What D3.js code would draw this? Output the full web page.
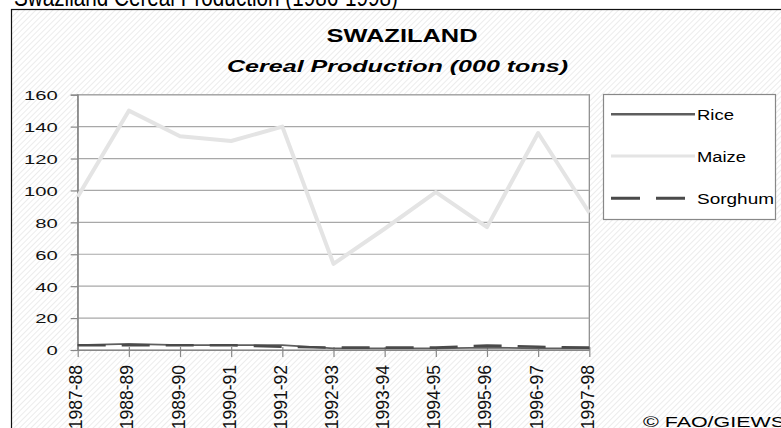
<!DOCTYPE html>
<html><head><meta charset="utf-8">
<script src="https://cdn.jsdelivr.net/npm/d3@7"></script>
<style>
html,body{margin:0;padding:0;background:#fff;}
svg{display:block;font-family:Arial,"Liberation Sans",sans-serif;}
</style></head>
<body>
<svg id="c" width="781" height="428"></svg>
<script>
const years = ["1987-88","1988-89","1989-90","1990-91","1991-92","1992-93","1993-94","1994-95","1995-96","1996-97","1997-98"];
const rice = [3, 3.8, 3, 3, 3, 1, 1, 1, 1.5, 1, 1];
const maize = [96, 150, 134, 131, 140, 54, 76, 99, 77, 136, 86];
const sorghum = [3, 3, 3, 3, 2, 1.5, 1.5, 1.5, 2.8, 2, 1.5];
const yTicks = [0, 20, 40, 60, 80, 100, 120, 140, 160];
const seriesNames = ["Rice", "Maize", "Sorghum"];

const svg = d3.select("#c");
const defs = svg.append("defs");
const pat = defs.append("pattern").attr("id","hatch").attr("patternUnits","userSpaceOnUse")
  .attr("width",4).attr("height",4).attr("patternTransform","rotate(45)");
pat.append("rect").attr("width",4).attr("height",4).attr("fill","#ffffff");
pat.append("line").attr("x1",0).attr("y1",0).attr("x2",0).attr("y2",4).attr("stroke","#e6e6e6").attr("stroke-width",1.5);

// cropped page title
svg.append("text").attr("x",14).attr("y",6).attr("font-size",25)
  .attr("textLength",384).attr("lengthAdjust","spacingAndGlyphs")
  .text("Swaziland Cereal Production (1986-1998)");

// chart box
svg.append("rect").attr("x",11.5).attr("y",9.5).attr("width",800).attr("height",450)
  .attr("fill","url(#hatch)").attr("stroke","#111").attr("stroke-width",1.2);

svg.append("text").attr("x",402).attr("y",42).attr("text-anchor","middle")
  .attr("font-size",18).attr("font-weight","bold")
  .attr("textLength",151).attr("lengthAdjust","spacingAndGlyphs").text("SWAZILAND");
svg.append("text").attr("x",227).attr("y",72)
  .attr("font-size",17).attr("font-weight","bold").attr("font-style","italic")
  .attr("textLength",341).attr("lengthAdjust","spacingAndGlyphs").text("Cereal Production (000 tons)");

const x = d3.scalePoint().domain(years).range([77.7, 589.3]);
const y = d3.scaleLinear().domain([0,160]).range([350, 94.7]);

// plot area
svg.append("rect").attr("x",x.range()[0]).attr("y",y(160)).attr("width",x.range()[1]-x.range()[0])
  .attr("height",y(0)-y(160)).attr("fill","#fff").attr("stroke","#888").attr("stroke-width",1.2);

// grid
svg.append("g").selectAll("line").data(yTicks.filter(d=>d>0)).join("line")
  .attr("x1",x.range()[0]).attr("x2",x.range()[1]).attr("y1",d=>y(d)).attr("y2",d=>y(d))
  .attr("stroke","#a8a8a8").attr("stroke-width",1.2);

// y axis
const ya = svg.append("g").attr("transform",`translate(${x.range()[0]},0)`)
  .call(d3.axisLeft(y).tickValues(yTicks).tickSize(7).tickFormat(d3.format("d")));
ya.select(".domain").attr("stroke","#888").attr("stroke-width",1.2);
ya.selectAll(".tick line").attr("stroke","#888").attr("stroke-width",1.2);
ya.selectAll(".tick text").attr("x",0).attr("dy","0.36em").attr("font-size",13.5)
  .attr("font-family","Arial, 'Liberation Sans', sans-serif").attr("fill","#111")
  .attr("text-anchor","end").attr("transform","translate(-20,0) scale(1.5,1)");

// x axis
const xa = svg.append("g").attr("transform",`translate(0,${y(0)})`)
  .call(d3.axisBottom(x).tickSize(7).tickSizeOuter(0));
xa.select(".domain").attr("stroke","#888").attr("stroke-width",1.2);
xa.selectAll(".tick line").attr("stroke","#888").attr("stroke-width",1.2).attr("y1",-3);
xa.selectAll(".tick text").attr("x",0).attr("y",0).attr("dy",0).attr("font-size",17.5)
  .attr("font-family","Arial, 'Liberation Sans', sans-serif").attr("fill","#111")
  .attr("text-anchor","end").attr("transform","translate(4,15) scale(1.05,1) rotate(-90)");

const line = d3.line().x((d,i)=>x(years[i])).y(d=>y(d));
svg.append("path").datum(maize).attr("d",line).attr("fill","none").attr("stroke","#e4e4e4").attr("stroke-width",4).attr("stroke-linejoin","round");
svg.append("path").datum(rice).attr("d",line).attr("fill","none").attr("stroke","#5e5e5e").attr("stroke-width",1.8);
svg.append("path").datum(sorghum).attr("d",line).attr("fill","none").attr("stroke","#4a4a4a").attr("stroke-width",2.6).attr("stroke-dasharray","28,16");

// legend
const lg = svg.append("g");
lg.append("rect").attr("x",603.5).attr("y",94.5).attr("width",172).attr("height",125)
  .attr("fill","#fff").attr("stroke","#888").attr("stroke-width",1.2);
const legY = [114.3, 156, 198.3];
const legStyle = [
  {stroke:"#5e5e5e", w:2.5, dash:null, x2:695},
  {stroke:"#e4e4e4", w:3, dash:null, x2:695},
  {stroke:"#4a4a4a", w:3, dash:"29,16", x2:685}
];
const legLen = [37, 49, 77];
seriesNames.forEach((n,i)=>{
  lg.append("line").attr("x1",611).attr("x2",legStyle[i].x2).attr("y1",legY[i]).attr("y2",legY[i])
    .attr("stroke",legStyle[i].stroke).attr("stroke-width",legStyle[i].w)
    .attr("stroke-dasharray",legStyle[i].dash);
  lg.append("text").attr("x",697).attr("y",legY[i]+5.5).attr("font-size",14)
    .attr("textLength",legLen[i]).attr("lengthAdjust","spacingAndGlyphs").text(n);
});

svg.append("text").attr("x",643).attr("y",427).attr("font-size",14)
  .attr("textLength",142).attr("lengthAdjust","spacingAndGlyphs").text("© FAO/GIEWS");
</script>
</body></html>
